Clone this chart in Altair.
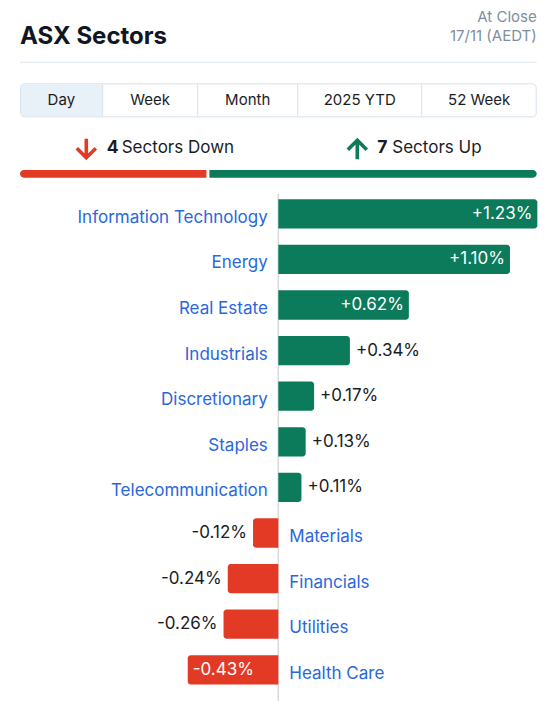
import altair as alt
import pandas as pd

# ---------------- data ----------------
SECTORS = ["Information Technology", "Energy", "Real Estate", "Industrials",
           "Discretionary", "Staples", "Telecommunication", "Materials",
           "Financials", "Utilities", "Health Care"]
CHANGES = [1.23, 1.10, 0.62, 0.34, 0.17, 0.13, 0.11, -0.12, -0.24, -0.26, -0.43]
TABS = ["Day", "Week", "Month", "2025 YTD", "52 Week"]
TITLE = "ASX Sectors"
STATUS = ["At Close", "17/11 (AEDT)"]

# ---------------- style ----------------
GREEN = "#0b7b5b"
RED = "#e33a26"
BLUE = "#2a67dc"
DARK = "#1a1c24"
GREY = "#7d8ea3"
FONT = "Inter"

df = pd.DataFrame({"sector": SECTORS, "change": CHANGES})
df["label"] = df["change"].map(lambda v: f"{v:+.2f}%")
df["inside"] = (df["change"].abs() >= 0.4).astype(int)
df["zero"] = 0.0

n_up = int((df["change"] > 0).sum())
n_down = int((df["change"] < 0).sum())
summary = pd.DataFrame({
    "dir": ["down", "up"],
    "start": [0.0, n_down / len(df)],
    "end": [n_down / len(df), 1.0],
})

W = 534


def one():
    return alt.Data(values=[{"k": 1}])


def txt(s, x, y, size=15, color=DARK, align="left", weight="normal", baseline="middle"):
    return alt.Chart(alt.Data(values=[{"t": s}])).mark_text(
        align=align, baseline=baseline, fontSize=size, font=FONT,
        fontWeight=weight, color=color
    ).encode(x=alt.value(x), y=alt.value(y), text="t:N")


# ---------------- header panel ----------------
HEAD_H = 182.2
deco = [
    txt(TITLE, 12, 36.3, size=24, weight="bold", color="#111622", baseline="alphabetic"),
    txt(STATUS[0], 528.7, 9, size=15, color=GREY, align="right"),
    txt(STATUS[1], 528.7, 28, size=15, color=GREY, align="right"),
    alt.Chart(one()).mark_rule(color="#dfe7f0", strokeWidth=1).encode(
        x=alt.value(12), x2=alt.value(528.7), y=alt.value(54.3)),
    alt.Chart(one()).mark_rect(fill="white", stroke="#d8e2ec", strokeWidth=1, cornerRadius=4).encode(
        x=alt.value(12.5), x2=alt.value(528.2), y=alt.value(75.8), y2=alt.value(108.8)),
    alt.Chart(one()).mark_rect(fill="#e8f0f8", cornerRadiusTopLeft=4, cornerRadiusBottomLeft=4).encode(
        x=alt.value(13), x2=alt.value(94.7), y=alt.value(76.3), y2=alt.value(108.3)),
]
TAB_EDGES = [12, 94.7, 189.7, 289.7, 413.7, 528.7]
for e in TAB_EDGES[1:-1]:
    deco.append(alt.Chart(one()).mark_rule(color="#d8e2ec", strokeWidth=1).encode(
        x=alt.value(e), y=alt.value(76), y2=alt.value(108.5)))
for i, t in enumerate(TABS):
    cx = (TAB_EDGES[i] + TAB_EDGES[i + 1]) / 2
    deco.append(txt(t, cx, 91.5, size=15, align="center"))

ARROW_DOWN = "M0,-1L0,0.9M-0.95,-0.05L0,0.9L0.95,-0.05"
ARROW_UP = "M0,1L0,-0.9M-0.95,0.05L0,-0.9L0.95,0.05"
deco += [
    alt.Chart(one()).mark_point(shape=ARROW_DOWN, size=400, filled=False, stroke=RED,
                                strokeWidth=3.6, opacity=1).encode(
        x=alt.value(78.3), y=alt.value(140.7)),
    alt.Chart(one()).mark_point(shape=ARROW_UP, size=400, filled=False, stroke=GREEN,
                                strokeWidth=3.6, opacity=1).encode(
        x=alt.value(349.3), y=alt.value(141.3)),
    txt(str(n_down), 98.7, 140, size=17.5, weight="bold"),
    txt("Sectors Down", 113.7, 140, size=17),
    txt(str(n_up), 369.3, 140, size=17.5, weight="bold"),
    txt("Sectors Up", 384.3, 140, size=17),
]

# proportion bar: [0,1] spans x = 12 .. 528.7 of the 534 wide panel
L0, L1 = 12.0, 528.7
sdom = [(0 - L0) / (L1 - L0), (W - L0) / (L1 - L0)]
sx = alt.X("start:Q", scale=alt.Scale(domain=sdom, nice=False, zero=False), axis=None)
summ_base = alt.Chart(summary)
deco += [
    summ_base.transform_filter("datum.dir == 'down'").mark_bar(
        color=RED, x2Offset=-1.5, cornerRadiusTopLeft=4, cornerRadiusBottomLeft=4).encode(
        x=sx, x2="end:Q", y=alt.value(162), y2=alt.value(169.7)),
    summ_base.transform_filter("datum.dir == 'up'").mark_bar(
        color=GREEN, xOffset=1.5, cornerRadiusTopRight=4, cornerRadiusBottomRight=4).encode(
        x=sx, x2="end:Q", y=alt.value(162), y2=alt.value(169.7)),
]
header = alt.layer(*deco).properties(width=W, height=HEAD_H)

# ---------------- main bars panel ----------------
ZERO_PX = 270.3      # x pixel of 0%
PX_PER_UNIT = 210.6  # pixels per 1%
xdom = [-ZERO_PX / PX_PER_UNIT, (W - ZERO_PX) / PX_PER_UNIT]
xs = alt.Scale(domain=xdom, nice=False, zero=False)
STEP = 45.6
MAIN_H = STEP * len(SECTORS)
ys = alt.Scale(domain=SECTORS, paddingInner=0.357, paddingOuter=0.1785)
X = alt.X("change:Q", scale=xs, axis=None)
Y = alt.Y("sector:N", scale=ys, axis=None, sort=SECTORS)
XZ = alt.X("zero:Q", scale=xs, axis=None)

base = alt.Chart(df)
zero_rule = alt.Chart(pd.DataFrame({"zero": [0.0]})).mark_rule(
    color="#d9d9d9", strokeWidth=1.5).encode(
    x=XZ, y=alt.value(2.8), y2=alt.value(510))

bars_pos = base.transform_filter("datum.change >= 0").mark_bar(
    color=GREEN, cornerRadiusTopRight=3, cornerRadiusBottomRight=3).encode(
    x=X, x2="zero:Q", y=Y)
bars_neg = base.transform_filter("datum.change < 0").mark_bar(
    color=RED, cornerRadiusTopLeft=3, cornerRadiusBottomLeft=3).encode(
    x=X, x2="zero:Q", y=Y)

cat_pos = base.transform_filter("datum.change >= 0").mark_text(
    align="right", baseline="middle", dx=-10.5, dy=4, fontSize=17, font=FONT, color=BLUE).encode(
    x=XZ, y=Y, text="sector:N")
cat_neg = base.transform_filter("datum.change < 0").mark_text(
    align="left", baseline="middle", dx=11, dy=4, fontSize=17, font=FONT, color=BLUE).encode(
    x=XZ, y=Y, text="sector:N")


def vlabel(flt, align, dx, color):
    return base.transform_filter(flt).mark_text(
        align=align, baseline="middle", dx=dx, fontSize=17, font=FONT, color=color).encode(
        x=X, y=Y, text="label:N")


vals = [
    vlabel("datum.change >= 0 && datum.inside == 1", "right", -5, "white"),
    vlabel("datum.change >= 0 && datum.inside == 0", "left", 6, DARK),
    vlabel("datum.change < 0 && datum.inside == 1", "left", 5, "white"),
    vlabel("datum.change < 0 && datum.inside == 0", "right", -6, DARK),
]

main = alt.layer(zero_rule, bars_pos, bars_neg, cat_pos, cat_neg, *vals).properties(
    width=W, height=MAIN_H)

chart = alt.vconcat(header, main, spacing=0, bounds="flush").properties(
    padding=0, background="white"
).configure_view(stroke=None)

chart.save("out.html", embed_options={"renderer": "svg", "actions": False})
